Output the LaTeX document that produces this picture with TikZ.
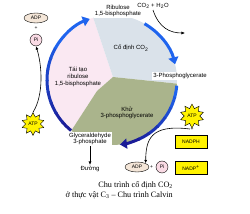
\documentclass[tikz,border=0pt]{standalone}
\usepackage{fontspec}
\setmainfont{Liberation Serif}
\setsansfont{Liberation Sans}
\usetikzlibrary{arrows.meta,shapes.geometric}

\definecolor{regenpink}{HTML}{FAE8F2}
\definecolor{fixblue}{HTML}{DAE2EA}
\definecolor{reduolive}{HTML}{AAB48C}
\definecolor{cycblue}{HTML}{1F64EE}
\definecolor{cycnavy}{HTML}{1A1C98}
\definecolor{pifill}{HTML}{F9DAE4}
\definecolor{adpfill}{HTML}{F4E6D8}

\tikzset{
  lbl/.style={font=\sffamily\fontsize{6}{6.6}\selectfont,align=center,inner sep=1pt},
  whitelbl/.style={lbl,fill=white},
  small/.style={font=\sffamily\fontsize{5}{5}\selectfont,inner sep=0.5pt},
  adpbox/.style={small,ellipse,draw,fill=adpfill,minimum width=24pt,minimum height=10pt},
  pibox/.style={small,circle,draw,fill=pifill,minimum size=12pt},
  atpstar/.style={small,star,star points=10,star point ratio=1.55,draw,fill=yellow,minimum size=22pt},
  nadpbox/.style={small,draw,fill=yellow,minimum width=32pt,minimum height=13pt},
  cycarrow/.style={line width=3pt,-{Triangle[length=7pt,width=10pt]}},
  thinarrow/.style={-{Latex[length=3.5pt,width=3pt]},semithick}
}

\begin{document}
\begin{tikzpicture}[x=1pt,y=-1pt]
\useasboundingbox (0,0) rectangle (250,214);

% the three phases
\begin{scope}
  \clip (112,80) circle (65);
  \fill[regenpink] (113,77) -- (89,5) -- (40,5) -- (40,155) -- (57,155) -- (73,128) -- (97,91) -- cycle;
  \fill[fixblue] (113,77) -- (89,5) -- (190,5) -- (190,85) -- cycle;
  \fill[reduolive] (113,77) -- (190,85) -- (190,155) -- (57,155) -- (73,128) -- (97,91) -- cycle;
\end{scope}

% cycle arrows
\foreach \a in {129,139,...,199}
  \draw[line width=3pt,cycblue!\the\numexpr(\a-129)*100/90\relax!cycnavy]
    (112,80) ++(\a:65) arc (\a:\a+11:65);
\draw[cycarrow,cycblue] (112,80) ++(209:65) arc (209:250:65);
\draw[cycarrow,cycblue] (112,80) ++(300:65) arc (300:346:65);
\foreach \a in {5,15,...,55}
  \draw[line width=3pt,cycnavy!\the\numexpr(\a-5)*100/60\relax!cycblue]
    (112,80) ++(\a:65) arc (\a:\a+11:65);
\draw[cycarrow,cycnavy] (112,80) ++(65:65) arc (65:83:65);

% labels on the cycle
\node[whitelbl] (ribu) at (118,11) {Ribulose\\1,5-bisphosphate};
\node[lbl] (fix) at (131,48) {Cố định CO\textsubscript{2}};
\node[whitelbl] (pga) at (180,76) {3-Phosphoglycerate};
\node[lbl] (regen) at (78,77) {Tái tạo\\ribulose\\1,5-bisphosphate};
\node[lbl] (redu) at (127,113) {Khử\\3-phosphoglycerate};
\node[whitelbl] (g3p) at (90,139) {Glyceraldehyde\\3-phosphate};
\node[lbl] (sugar) at (90,169) {Đường};
\node[lbl] (co2in) at (153,6) {CO\textsubscript{2} + H\textsubscript{2}O};
\coordinate (co2end) at (185,33);

% energy, left side
\node[adpbox] (adpL) at (36,18) {ADP};
\node[small] (plusL) at (36,28) {+};
\node[pibox] (piL) at (36,40) {Pi};
\node[atpstar] (atpL) at (33,124) {ATP};

% energy, right side
\node[atpstar,minimum size=24pt] (atpR) at (192,116) {ATP};
\node[small] (plusR) at (192,129) {+};
\node[nadpbox] (nadph) at (191,142) {NADPH};
\node[nadpbox] (nadp) at (191,168) {NADP\textsuperscript{+}};
\node[adpbox] (adpR) at (137,167) {ADP};
\node[small] (plusM) at (151.5,167) {+};
\node[pibox] (piR) at (162,167) {Pi};

% connectors
\draw[thinarrow] (co2in.south) .. controls (159,28) and (170,33) .. (co2end);
\draw[thinarrow] (atpL.north) .. controls (44,95) and (42,65) .. (piL.south);
\draw[thinarrow] (plusR.west) .. controls (150,124) and (146,140) .. (adpR.north east);
\draw[thinarrow] (g3p) -- (sugar);

% caption
\node[anchor=north east,align=right,inner sep=0pt,font=\fontsize{8.2}{10}\selectfont] (caption) at (173,181)
  {Chu trình cố định CO\textsubscript{2}\\ở thực vật C\textsubscript{3} – Chu trình Calvin};
\end{tikzpicture}
\end{document}
